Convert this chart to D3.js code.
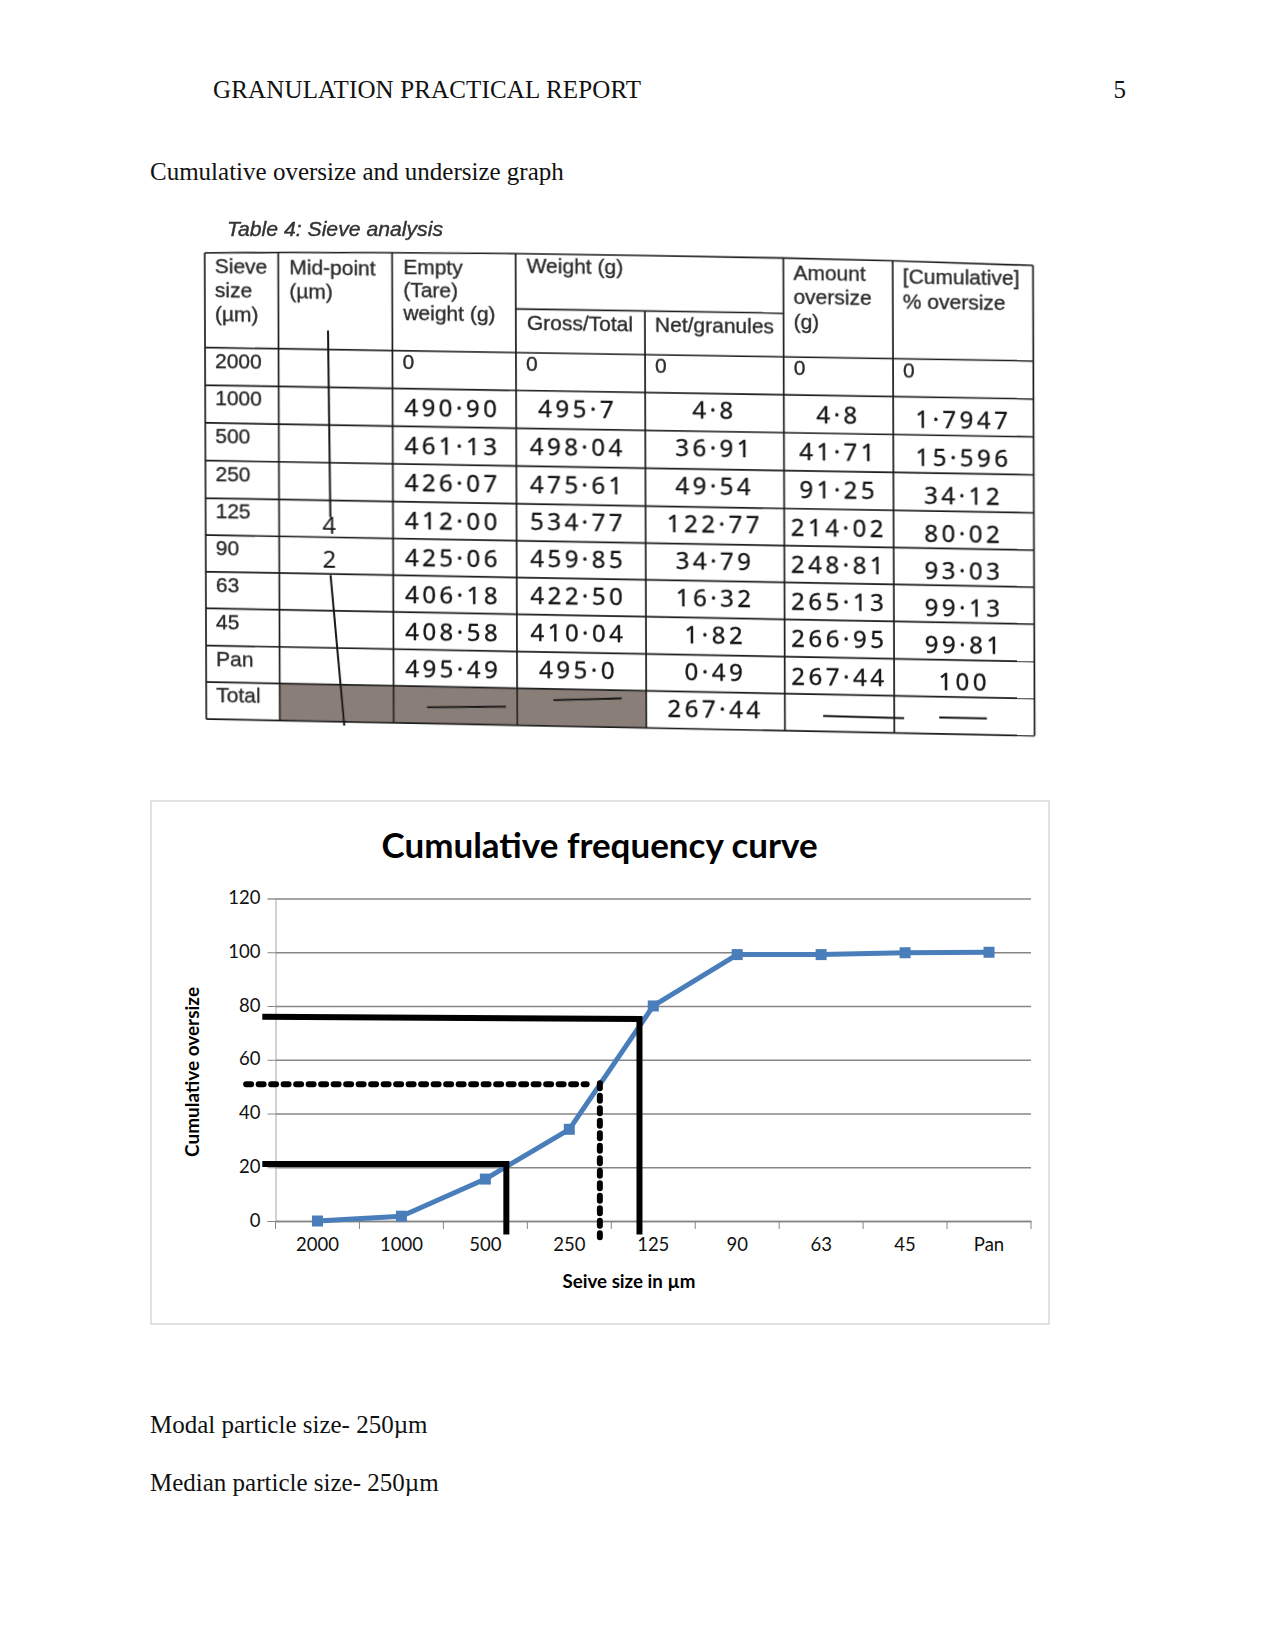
<!DOCTYPE html>
<html>
<head>
<meta charset="utf-8">
<script src="https://cdn.jsdelivr.net/npm/d3@7"></script>
<style>
  html, body { margin: 0; padding: 0; background: #fff; }
  svg { display: block; }
</style>
</head>
<body>
<div id="page"></div>
<script>
// chart data
const sieveLabels = ["2000", "1000", "500", "250", "125", "90", "63", "45", "Pan"];
const cumulativeOversize = [0, 1.79, 15.6, 34.12, 80.02, 99.13, 99.13, 99.81, 100];
const yTicks = [0, 20, 40, 60, 80, 100, 120];

// hand drawn guides, x in category index, y in axis units
const guideLow = [[-0.657, 21.2], [2.25, 21.2], [2.25, -5]];
const guideHigh = [[-0.657, 76], [3.836, 75.2], [3.836, -5]];
const guideMidH = [[-0.85, 50.9], [3.207, 50.9]];
const guideMidV = [[3.364, 51.3], [3.364, -6]];

// table data, as written on the sheet
const tableSieves = ["2000", "1000", "500", "250", "125", "90", "63", "45", "Pan", "Total"];
const emptyWeights = ["490·90", "461·13", "426·07", "412·00", "425·06", "406·18", "408·58", "495·49"];
const grossWeights = ["495·7", "498·04", "475·61", "534·77", "459·85", "422·50", "410·04", "495·0"];
const netWeights = ["4·8", "36·91", "49·54", "122·77", "34·79", "16·32", "1·82", "0·49", "267·44"];
const amountOversize = ["4·8", "41·71", "91·25", "214·02", "248·81", "265·13", "266·95", "267·44"];
const percentOversize = ["1·7947", "15·596", "34·12", "80·02", "93·03", "99·13", "99·81", "100"];

const width = 1275, height = 1650;
const svg = d3.select("#page").append("svg")
    .attr("width", width)
    .attr("height", height);

const defs = svg.append("defs");
defs.append("filter").attr("id", "scan")
    .append("feGaussianBlur").attr("stdDeviation", 0.35);

// page text
const serif = "'Liberation Serif', serif";
function pageText(x, y, str, len, anchor) {
    const t = svg.append("text")
        .attr("x", x).attr("y", y)
        .attr("font-family", serif)
        .attr("font-size", 25)
        .attr("fill", "#111")
        .attr("text-anchor", anchor || "start")
        .text(str);
    if (len) t.attr("textLength", len);
}
pageText(213, 98, "GRANULATION PRACTICAL REPORT", 428);
pageText(1126, 98, "5", null, "end");
pageText(150, 180, "Cumulative oversize and undersize graph");
pageText(150, 1433, "Modal particle size- 250µm");
pageText(150, 1491, "Median particle size- 250µm");

// ---- scanned table ----
const colEdges = [0, 73.5, 187.4, 310.9, 440, 578.6, 688, 828.3];
const rowEdges = [0, 94.3, 131.8, 169.3, 206.8, 244.3, 281, 317.5, 354, 391, 427.5, 464.3];
// the paper bows up along the top edge of the scan
const topBow = [0, -1.5, -3, -4, -4, -3.6, -2.5, 0];
const colX = d3.scaleLinear().domain(d3.range(colEdges.length)).range(colEdges);
const rowY = d3.scaleLinear().domain(d3.range(rowEdges.length)).range(rowEdges);
// the scan fans out a little towards the lower right
const warp = (px, py) => py + 1.09e-5 * px * py;

const print = "'Liberation Sans', Arial, sans-serif";
const hand = "'Noto Sans', sans-serif";

svg.append("text")
    .attr("x", 227).attr("y", 236)
    .attr("font-family", print)
    .attr("font-style", "italic")
    .attr("font-size", 21)
    .attr("fill", "#333")
    .attr("stroke", "#333")
    .attr("stroke-width", 0.4)
    .attr("filter", "url(#scan)")
    .attr("textLength", 216)
    .attr("lengthAdjust", "spacingAndGlyphs")
    .text("Table 4: Sieve analysis");

const table = svg.append("g")
    .attr("transform", "matrix(1,0.0151,0.0035,1.004,204.7,252.9)")
    .attr("filter", "url(#scan)");

// shaded total cells
[1, 2, 3].forEach(c => {
    const x0 = colX(c), x1 = colX(c + 1);
    table.append("polygon")
        .attr("points", [
            [x0, warp(x0, rowY(10))], [x1, warp(x1, rowY(10))],
            [x1, warp(x1, rowY(11))], [x0, warp(x0, rowY(11))]
        ].join(" "))
        .attr("fill", "#8a7e79");
});

// grid
const gridLine = (x1, y1, x2, y2) => table.append("line")
    .attr("x1", x1).attr("y1", warp(x1, y1)).attr("x2", x2).attr("y2", warp(x2, y2))
    .attr("stroke", "#1d1d1d").attr("stroke-width", 1.7);
rowEdges.slice(1).forEach(y => gridLine(0, y, colEdges[7], y));
colEdges.forEach((x, i) => gridLine(x, i === 4 ? 51 : topBow[i], x, rowEdges[11]));
gridLine(colEdges[3], 51, colEdges[5], 51);
table.append("path")
    .attr("d", d3.line().x(d => d).y((d, i) => topBow[i])(colEdges))
    .attr("fill", "none")
    .attr("stroke", "#1d1d1d")
    .attr("stroke-width", 1.7);

// printed header text
function printed(x, y, lines, step) {
    lines.forEach((s, i) => {
        table.append("text")
            .attr("x", x).attr("y", warp(x, y + i * (step || 24)))
            .attr("font-family", print)
            .attr("font-size", 21)
            .attr("fill", "#2a2a2a")
            .attr("stroke", "#2a2a2a")
            .attr("stroke-width", 0.35)
            .text(s);
    });
}
printed(colX(0) + 10, 20, ["Sieve", "size", "(µm)"]);
printed(colX(1) + 11, 20, ["Mid-point", "(µm)"]);
printed(colX(2) + 11, 18, ["Empty", "(Tare)", "weight (g)"], 23);
printed(colX(3) + 11, 15, ["Weight (g)"]);
printed(colX(3) + 11, 71, ["Gross/Total"]);
printed(colX(4) + 10, 71, ["Net/granules"]);
printed(colX(5) + 10, 18, ["Amount", "oversize", "(g)"]);
printed(colX(6) + 10, 20, ["[Cumulative]", "% oversize"]);

tableSieves.forEach((s, i) => printed(colX(0) + 10, rowY(i + 1) + 20, [s]));
[2, 3, 4, 5, 6].forEach(c => printed(colX(c) + 10, rowY(1) + 18, ["0"]));

// handwritten cells
function handColumn(col, values, dx, dy) {
    const cx = (colX(col) + colX(col + 1)) / 2 + dx;
    table.append("g").selectAll("text")
        .data(values)
        .join("text")
        .attr("x", cx)
        .attr("y", (d, i) => warp(cx, rowY(i + 2) + 28 + dy))
        .attr("font-family", hand)
        .attr("font-size", 24)
        .attr("letter-spacing", 3.5)
        .attr("text-anchor", "middle")
        .attr("fill", "#161616")
        .attr("stroke", "#161616")
        .attr("stroke-width", 0.35)
        .text(d => d);
}
handColumn(2, emptyWeights, -2, -1);
handColumn(3, grossWeights, -3, -2);
handColumn(4, netWeights, 0, -3);
handColumn(5, amountOversize, 0, -1);
handColumn(6, percentOversize, 0, 2);

// pen marks, in column and row units
const penLine = d3.line()
    .x(d => colX(d[0]))
    .y(d => warp(colX(d[0]), rowY(d[1])));
const penStrokes = [
    [[1.435, 0.8], [1.45, 5.45]],
    [[1.45, 7.03], [1.566, 11.1]],
    [[2.27, 10.56], [2.91, 10.5]],
    [[3.28, 10.3], [3.81, 10.22]],
    [[5.35, 10.58], [6.07, 10.6]],
    [[6.32, 10.56], [6.66, 10.56]]
];
table.append("g").selectAll("path")
    .data(penStrokes)
    .join("path")
    .attr("d", penLine)
    .attr("fill", "none")
    .attr("stroke", "#161616")
    .attr("stroke-width", 2);
[["4", 5.92], ["2", 6.85]].forEach(([s, r]) => {
    table.append("text")
        .attr("x", colX(1.44)).attr("y", rowY(r))
        .attr("font-family", hand)
        .attr("font-size", 24)
        .attr("text-anchor", "middle")
        .attr("fill", "#161616")
        .text(s);
});

// ---- chart ----
const frame = {x: 151, y: 801, w: 898, h: 523};
svg.append("rect")
    .attr("x", frame.x).attr("y", frame.y)
    .attr("width", frame.w).attr("height", frame.h)
    .attr("fill", "#fff")
    .attr("stroke", "#d9d9d9")
    .attr("stroke-width", 1.5);

const plot = {left: 275.5, right: 1031, top: 898.5, bottom: 1221};
const font = "Lato, sans-serif";

const x = d3.scaleBand().domain(sieveLabels).range([plot.left, plot.right]);
const xPos = d3.scaleLinear().domain([-0.5, 8.5]).range([plot.left, plot.right]);
const y = d3.scaleLinear().domain([0, 120]).range([plot.bottom, plot.top]);

// y axis with gridlines
const yAxis = svg.append("g")
    .attr("transform", `translate(${plot.left},0)`)
    .call(d3.axisLeft(y).tickValues(yTicks).tickSize(8).tickPadding(7));
yAxis.select(".domain").attr("stroke", "#a6a6a6").attr("stroke-width", 1);
yAxis.selectAll(".tick line").attr("stroke", "#868686").attr("stroke-width", 1);
yAxis.selectAll(".tick").append("line")
    .attr("x2", plot.right - plot.left)
    .attr("stroke", "#868686")
    .attr("stroke-width", 1.6);
yAxis.selectAll("text")
    .attr("font-family", font)
    .attr("font-size", 18.5)
    .attr("fill", "#111")
    .attr("dy", "0.28em");

// x axis, ticks sit between the categories
const xAxis = svg.append("g")
    .attr("transform", `translate(0,${plot.bottom})`)
    .call(d3.axisBottom(x).tickSize(0).tickPadding(17));
xAxis.select(".domain").attr("stroke", "#868686").attr("stroke-width", 1.6);
xAxis.selectAll("text")
    .attr("font-family", font)
    .attr("font-size", 18.5)
    .attr("fill", "#111");
xAxis.selectAll(".edge")
    .data(d3.range(sieveLabels.length + 1))
    .join("line")
    .attr("class", "edge")
    .attr("x1", d => xPos(d - 0.5))
    .attr("x2", d => xPos(d - 0.5))
    .attr("y2", 8)
    .attr("stroke", "#868686")
    .attr("stroke-width", 1);

// series
const seriesColor = "#4a7ebb";
const line = d3.line()
    .x((d, i) => x(sieveLabels[i]) + x.bandwidth() / 2)
    .y(d => y(d));
svg.append("path")
    .datum(cumulativeOversize)
    .attr("d", line)
    .attr("fill", "none")
    .attr("stroke", seriesColor)
    .attr("stroke-width", 5)
    .attr("stroke-linejoin", "round");
svg.selectAll(".marker")
    .data(cumulativeOversize)
    .join("rect")
    .attr("class", "marker")
    .attr("x", (d, i) => x(sieveLabels[i]) + x.bandwidth() / 2 - 5.5)
    .attr("y", d => y(d) - 5.5)
    .attr("width", 11)
    .attr("height", 11)
    .attr("fill", seriesColor);

// guides
const guide = d3.line().x(d => xPos(d[0])).y(d => y(d[1]));
[guideLow, guideHigh].forEach(g => {
    svg.append("path")
        .attr("d", guide(g))
        .attr("fill", "none")
        .attr("stroke", "#000")
        .attr("stroke-width", 6)
        .attr("stroke-linejoin", "miter");
});
[guideMidH, guideMidV].forEach(g => {
    svg.append("path")
        .attr("d", guide(g))
        .attr("fill", "none")
        .attr("stroke", "#000")
        .attr("stroke-width", 6)
        .attr("stroke-linecap", "round")
        .attr("stroke-dasharray", "5,7.5");
});

// chart titles
function chartText(px, py, str, size, len, rotate) {
    const t = svg.append("text")
        .attr("font-family", font)
        .attr("font-weight", 700)
        .attr("font-size", size)
        .attr("fill", "#000")
        .attr("text-anchor", "middle")
        .attr("textLength", len)
        .attr("lengthAdjust", "spacingAndGlyphs")
        .text(str);
    if (rotate) t.attr("transform", `translate(${px},${py}) rotate(-90)`);
    else t.attr("x", px).attr("y", py);
}
chartText(599.6, 858, "Cumulative frequency curve", 35, 436);
chartText(629, 1288, "Seive size in µm", 18, 133);
chartText(199, 1072, "Cumulative oversize", 18, 170, true);
</script>
</body>
</html>
